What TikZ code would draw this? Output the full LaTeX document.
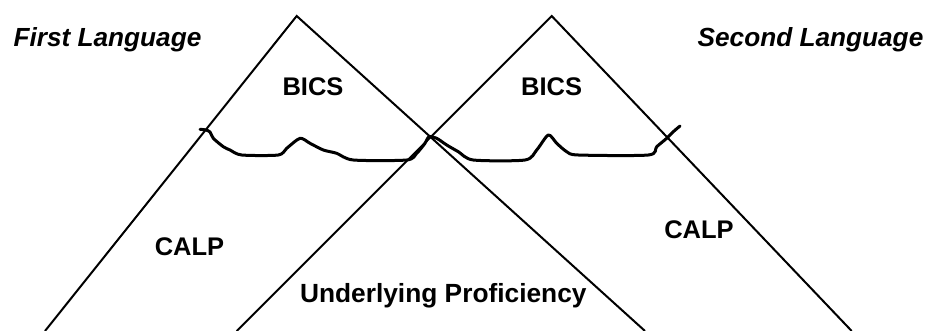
\documentclass[tikz,border=0pt]{standalone}
\usepackage{fontspec}
\setmainfont{Liberation Sans}
\begin{document}
\begin{tikzpicture}[x=1pt,y=-1pt,
  leg/.style={line width=2pt,line join=miter},
  wave/.style={line width=3pt,line join=round,line cap=round},
  lbl/.style={font=\fontsize{25.5}{28}\selectfont\bfseries,inner sep=0pt,anchor=base},
  big/.style={font=\fontsize{26.3}{29}\selectfont\bfseries,inner sep=0pt,anchor=base},
  ttl/.style={font=\fontsize{26.2}{29}\selectfont\bfseries\itshape,inner sep=0pt,anchor=base}]
\useasboundingbox (0,0) rectangle (929,331);
% apexes and feet
\coordinate (A1) at (296.7,16);
\coordinate (L1) at (45,331);
\coordinate (R1) at (645,331);
\coordinate (A2) at (551.7,16);
\coordinate (L2) at (236.7,331);
\coordinate (R2) at (851.7,331);
\draw[leg] (L1) -- (A1) -- (R1);
\draw[leg] (L2) -- (A2) -- (R2);
% wavy boundary line
\draw[wave] plot[smooth,tension=0.45] coordinates {
  (200,129.3) (206,130) (210,132) (213.3,138.3) (223.3,146.7) (230,150) (241.7,155)
  (278.3,155) (286.7,148.3) (300,138.3) (310,143.3) (323.3,150) (336.7,153.3)
  (353.3,160) (406.7,160) (416.7,153.3) (425,143.3) (429,136.7) (436.7,138.3)
  (446.7,145) (458.3,151.7) (473.3,160) (525,160) (536.7,150) (548.3,135)
  (556.7,143.3) (566.7,151.7) (578.3,155) (648.3,155) (656.7,146.7)
  (666.7,138.3) (673.3,131.7) (680,126)};
% labels
\node[ttl] (first) at (107.5,47) {First Language};
\node[ttl] (second) at (810.5,47) {Second Language};
\node[lbl] (bics1) at (313,95.7) {BICS};
\node[lbl] (bics2) at (551.7,95.7) {BICS};
\node[lbl] (calp1) at (189.5,255) {CALP};
\node[lbl] (calp2) at (699,239) {CALP};
\node[big] (cup) at (443.3,302.7) {Underlying Proficiency};
\end{tikzpicture}
\end{document}
